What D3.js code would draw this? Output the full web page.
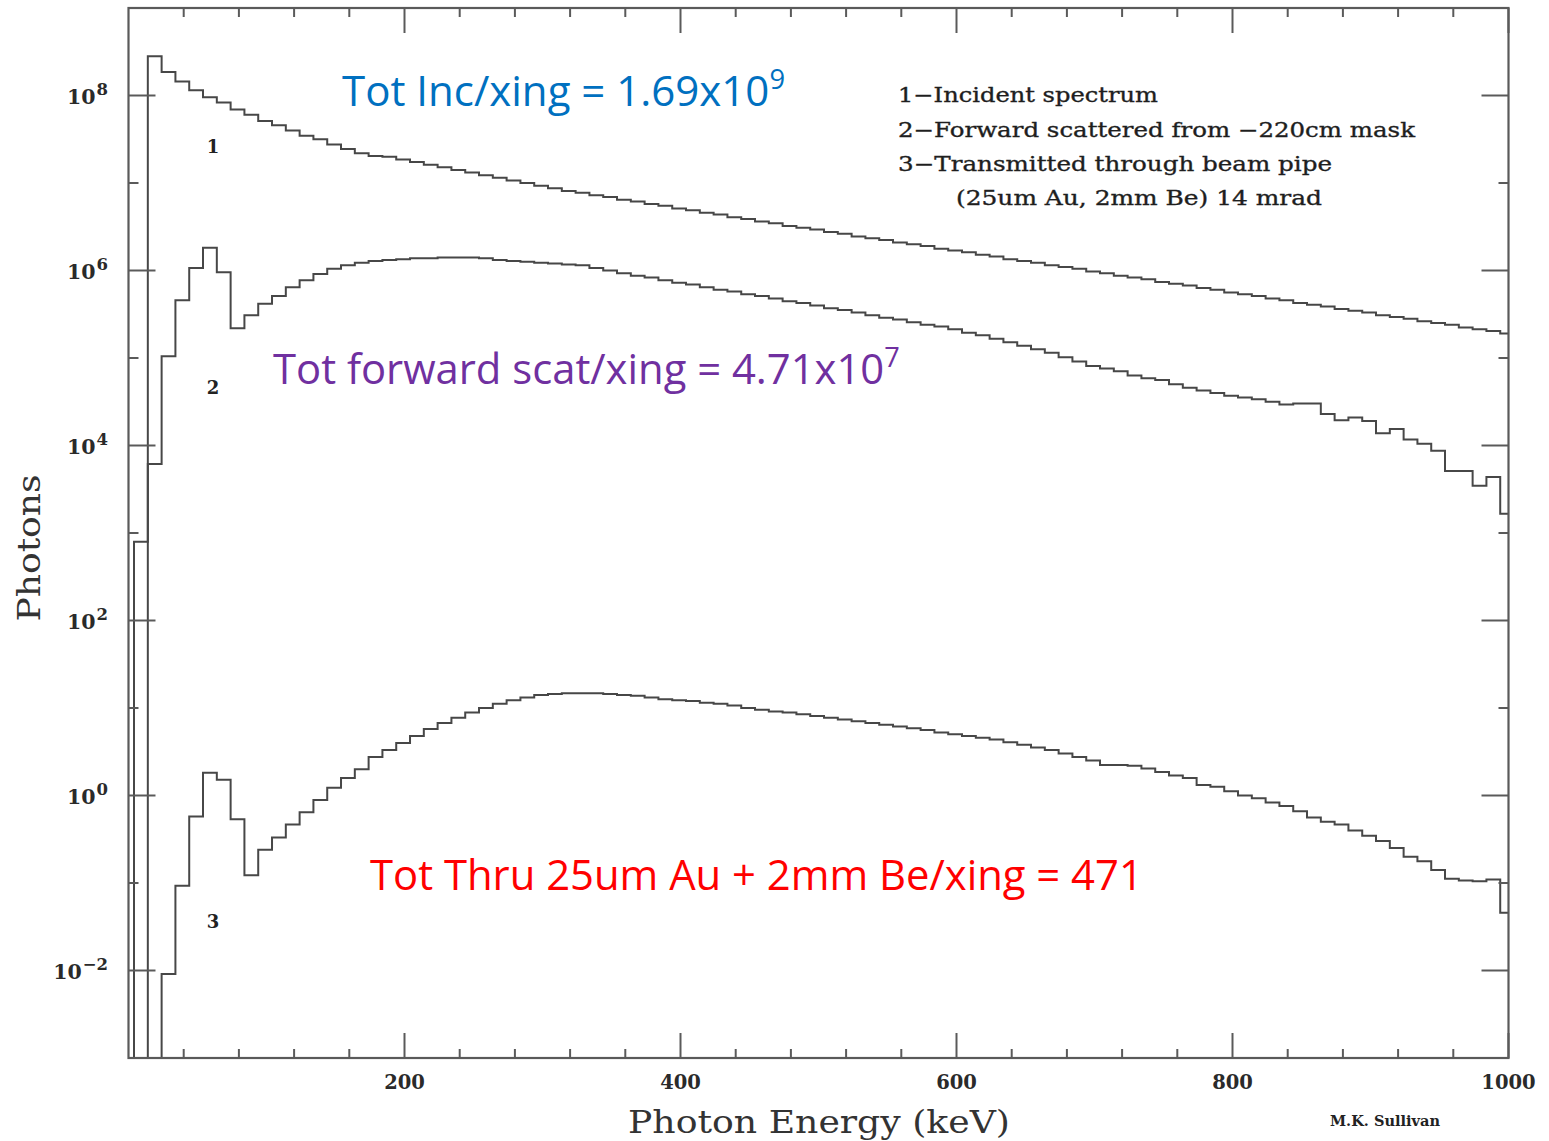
<!DOCTYPE html>
<html><head><meta charset="utf-8">
<script src="https://cdn.jsdelivr.net/npm/d3@7/dist/d3.min.js"></script>
<style>body{margin:0;background:#fff}svg{display:block}</style>
</head><body>
<svg id="chart" width="1549" height="1141"></svg>
<script>
// ---------- data ----------
const binLow = [4,14,24,34,44,54,64,74,84,94,104,114,124,134,144,154,164,174,184,194,
204,214,224,234,244,254,264,274,284,294,304,314,324,334,344,354,364,374,384,394,
404,414,424,434,444,454,464,474,484,494,504,514,524,534,544,554,564,574,584,594,
604,614,624,634,644,654,664,674,684,694,704,714,724,734,744,754,764,774,784,794,
804,814,824,834,844,854,864,874,884,894,904,914,924,934,944,954,964,974,984,994];
const binWidth = 10;
// log10(photons) per bin; null = empty bin
const incidentExp = [2.9,
8.45,8.27,8.16,8.06,7.98,7.92,7.84,7.78,7.71,7.66,7.60,7.54,7.50,7.44,7.39,7.34,7.31,
7.30,7.27,7.24,7.21,7.18,7.15,7.12,7.09,7.06,7.03,7.00,6.97,6.94,6.91,
6.89,6.86,6.84,6.81,6.79,6.76,6.74,6.71,6.69,6.66,6.64,6.61,6.59,6.56,6.54,6.51,6.49,
6.47,6.44,6.42,6.39,6.37,6.35,6.32,6.30,6.28,6.25,6.23,6.21,6.18,6.16,6.13,6.11,6.09,6.06,6.04,6.02,
5.99,5.97,5.94,5.92,5.90,5.87,5.85,5.83,5.80,5.78,5.75,5.73,5.71,5.68,5.66,5.63,
5.61,5.59,5.56,5.54,5.52,5.49,5.47,5.45,5.42,5.40,5.38,5.35,5.33,5.31,5.28];
const forwardExp = [null,
3.79,5.02,5.66,6.03,6.26,5.98,5.34,5.49,5.62,5.71,5.81,5.89,5.96,6.02,6.06,6.09,
6.11,6.12,6.13,6.14,6.14,6.15,6.15,6.15,6.14,
6.12,6.11,6.10,6.09,6.08,6.07,6.06,6.03,6.00,5.97,5.94,5.92,5.89,5.86,5.84,5.81,5.78,5.76,5.73,5.71,5.68,5.65,5.63,
5.60,5.57,5.55,5.52,5.49,5.46,5.44,5.41,5.38,5.36,
5.33,5.29,5.26,5.22,5.18,5.14,5.10,5.06,5.01,4.96,4.91,
4.88,4.85,4.80,4.77,4.75,4.70,4.66,4.63,4.60,4.57,4.55,4.53,4.50,4.47,4.48,
4.48,4.36,4.29,4.32,4.28,4.14,4.19,4.07,4.02,3.94,3.71,3.71,3.54,3.64,3.22];
const transmittedExp = [null,null,
-2.04,-1.03,-0.24,0.26,0.18,-0.27,-0.91,-0.62,-0.48,-0.33,-0.19,-0.05,0.09,0.20,0.30,0.44,0.52,
0.60,0.68,0.76,0.83,0.89,0.95,1.00,1.05,1.09,1.12,1.15,1.16,1.17,1.17,1.17,1.16,1.15,1.14,1.12,1.10,
1.09,1.08,1.06,1.05,1.03,1.00,0.98,0.96,0.95,0.93,0.91,
0.89,0.87,0.85,0.83,0.81,0.79,0.77,0.75,0.72,0.70,
0.68,0.66,0.64,0.61,0.58,0.55,0.52,0.48,0.44,0.40,
0.35,0.35,0.34,0.31,0.27,0.23,0.20,0.12,0.10,0.05,
0.00,-0.03,-0.08,-0.12,-0.18,-0.25,-0.30,-0.33,-0.40,-0.46,
-0.52,-0.60,-0.70,-0.75,-0.85,-0.95,-0.97,-0.98,-0.96,-1.34];
const curveLabels = ["1","2","3"];
const xMajorTicks = [200,400,600,800,1000];
const xTickLabels = ["200","400","600","800","1000"];
const xMinorTicks = [40,80,120,160,240,280,320,360,440,480,520,560,640,680,720,760,840,880,920,960];
const yMajorExps = [-2,0,2,4,6,8];
const yTickLabels = ["\u22122","0","2","4","6","8"];
const yMinorExps = [-1,1,3,5,7];
const legendLines = ["1\u2212Incident spectrum","2\u2212Forward scattered from \u2212220cm mask","3\u2212Transmitted through beam pipe","(25um Au, 2mm Be) 14 mrad"];
const notes = [
  {main:"Tot Inc/xing = 1.69x10", sup:"9"},
  {main:"Tot forward scat/xing = 4.71x10", sup:"7"},
  {main:"Tot Thru 25um Au + 2mm Be/xing = 471", sup:""}
];

// ---------- layout ----------
const svg = d3.select("#chart");
const L = 128.5, R = 1508.5, T = 8, B = 1058;
const x = d3.scaleLinear().domain([0,1000]).range([L,R]);
const y = d3.scaleLog().domain([1e-3,1e9]).range([B,T]);
const lineCol = "#474747", axisCol = "#5a5a5a";

svg.append("defs").append("clipPath").attr("id","plotclip")
  .append("rect").attr("x",L).attr("y",T).attr("width",R-L).attr("height",B-T);

function histPoints(exps){
  const pts = [];
  let started = false, last = null;
  exps.forEach((e,i)=>{
    const yy = e==null ? B+20 : y(Math.pow(10,e));
    if(!started){ if(e==null) return; pts.push([x(binLow[i]), B+20]); started = true; }
    pts.push([x(binLow[i]), yy]); last = [x(Math.min(binLow[i]+binWidth,1000)), yy];
  });
  pts.push(last);
  return pts;
}
const line = d3.line().curve(d3.curveStepAfter);
const g = svg.append("g").attr("clip-path","url(#plotclip)");
[incidentExp, forwardExp, transmittedExp].forEach(s=>{
  g.append("path").attr("d", line(histPoints(s)))
    .attr("fill","none").attr("stroke",lineCol).attr("stroke-width",2)
    .attr("stroke-linejoin","miter");
});

// frame
svg.append("rect").attr("x",L).attr("y",T).attr("width",R-L).attr("height",B-T)
  .attr("fill","none").attr("stroke",axisCol).attr("stroke-width",2.2);

// ticks (inward, all four sides)
const tk = svg.append("g").attr("stroke",axisCol).attr("stroke-width",2);
xMinorTicks.forEach(v=>{
  tk.append("line").attr("x1",x(v)).attr("x2",x(v)).attr("y1",B).attr("y2",B-9);
  tk.append("line").attr("x1",x(v)).attr("x2",x(v)).attr("y1",T).attr("y2",T+9);
});
xMajorTicks.forEach(v=>{
  tk.append("line").attr("x1",x(v)).attr("x2",x(v)).attr("y1",B).attr("y2",B-25);
  tk.append("line").attr("x1",x(v)).attr("x2",x(v)).attr("y1",T).attr("y2",T+25);
});
yMinorExps.forEach(e=>{
  const yy = y(Math.pow(10,e));
  tk.append("line").attr("x1",L).attr("x2",L+10).attr("y1",yy).attr("y2",yy);
  tk.append("line").attr("x1",R).attr("x2",R-10).attr("y1",yy).attr("y2",yy);
});
yMajorExps.forEach(e=>{
  const yy = y(Math.pow(10,e));
  tk.append("line").attr("x1",L).attr("x2",L+27).attr("y1",yy).attr("y2",yy);
  tk.append("line").attr("x1",R).attr("x2",R-27).attr("y1",yy).attr("y2",yy);
});

const serif = "'DejaVu Serif', 'Liberation Serif', serif";
// x tick labels
xMajorTicks.forEach((v,i)=>{
  svg.append("text").attr("x",x(v)).attr("y",1089).attr("text-anchor","middle")
    .attr("font-family",serif).attr("font-weight","bold").attr("font-size",19.5)
    .attr("fill","#2a2a2a").text(xTickLabels[i]);
});
// y tick labels
yMajorExps.forEach((e,i)=>{
  const yy = y(Math.pow(10,e));
  const t = svg.append("text").attr("x",108).attr("y",yy+8).attr("text-anchor","end")
    .attr("font-family",serif).attr("font-weight","bold").attr("fill","#2a2a2a");
  t.append("tspan").attr("font-size",20.5).text("10");
  t.append("tspan").attr("font-size",16.5).attr("dx",1).attr("dy",-9).text(yTickLabels[i]);
});
// axis titles
svg.append("text").attr("x",819).attr("y",1133).attr("text-anchor","middle")
  .attr("font-family",serif).attr("font-size",31).attr("fill","#333")
  .attr("textLength",382).attr("lengthAdjust","spacingAndGlyphs").text("Photon Energy (keV)");
svg.append("text").attr("transform","translate(40,548) rotate(-90)").attr("text-anchor","middle")
  .attr("font-family",serif).attr("font-size",31).attr("fill","#333")
  .attr("textLength",147).attr("lengthAdjust","spacingAndGlyphs").text("Photons");

// curve labels
[[213,153],[213,394],[213,928]].forEach((p,i)=>{
  svg.append("text").attr("x",p[0]).attr("y",p[1]).attr("text-anchor","middle")
    .attr("font-family",serif).attr("font-weight","bold").attr("font-size",18)
    .attr("fill","#222").text(curveLabels[i]);
});

// legend
const legPos = [[898,102,260],[898,137,517],[898,171,434],[956,205,366]];
legendLines.forEach((s,i)=>{
  svg.append("text").attr("x",legPos[i][0]).attr("y",legPos[i][1])
    .attr("font-family",serif).attr("font-size",20).attr("fill","#1e1e1e")
    .attr("stroke","#1e1e1e").attr("stroke-width",0.35)
    .attr("textLength",legPos[i][2]).attr("lengthAdjust","spacingAndGlyphs").text(s);
});

// annotations
const noteStyle = [
  {x:342,y:106,w:443,c:"#0070C0"},
  {x:273,y:384,w:627,c:"#7030A0"},
  {x:370,y:890,w:773,c:"#FF0000"}
];
notes.forEach((n,i)=>{
  const st = noteStyle[i];
  const t = svg.append("text").attr("x",st.x).attr("y",st.y)
    .attr("font-family","'Open Sans','Lato',sans-serif").attr("font-size",40).attr("fill",st.c);
  t.append("tspan").text(n.main);
  if(n.sup) t.append("tspan").attr("font-size",26).attr("dy",-17).text(n.sup);
  const w = t.node().getComputedTextLength();
  t.attr("font-size",40*st.w/w);
  t.selectAll("tspan").filter((d,j)=>j===1).attr("font-size",26*st.w/w);
});

svg.append("text").attr("x",1330).attr("y",1126)
  .attr("font-family",serif).attr("font-weight","bold").attr("font-size",14)
  .attr("fill","#222").attr("textLength",110).attr("lengthAdjust","spacingAndGlyphs").text("M.K. Sullivan");
</script>
</body></html>
